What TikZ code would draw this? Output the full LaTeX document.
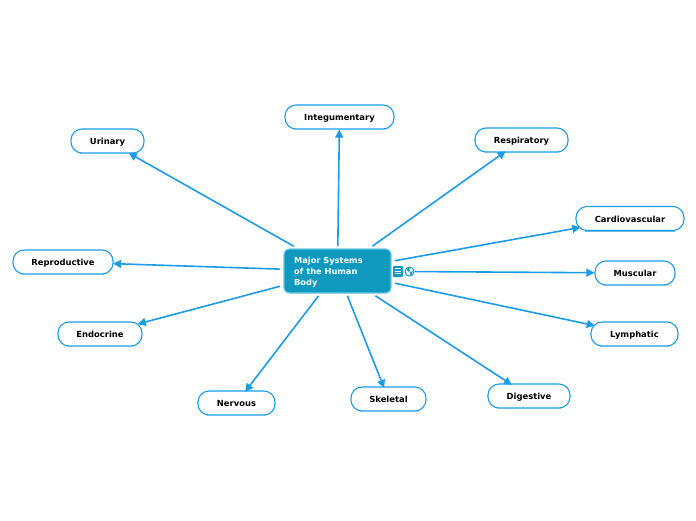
\documentclass[tikz,border=0pt]{standalone}
\usepackage{fontspec}
\setmainfont{DejaVu Sans}
\usetikzlibrary{arrows.meta}
\definecolor{linkc}{HTML}{1C9CE8}
\definecolor{lightc}{HTML}{6BBDF0}
\definecolor{mainf}{HTML}{0F99BF}
\definecolor{mainb}{HTML}{6CC4E8}
\tikzset{
  x=1pt,y=-1pt,
  topic/.style={draw=linkc,fill=white,line width=1.1pt,rounded corners=11pt,minimum height=24pt,inner sep=0pt,text height=7pt,text depth=0pt,font=\fontsize{8.4}{10}\selectfont\bfseries,text=black},
  central/.style={draw=mainb,fill=mainf,line width=1.1pt,rounded corners=5pt,minimum width=107pt,minimum height=44pt,inner sep=0pt,outer xsep=4pt,outer ysep=2.8pt,text=white},
  link/.style={draw=linkc,line width=1.6pt,-{Triangle[length=8pt,width=8pt]}},
  notebox/.style={fill=mainf,rounded corners=1pt,minimum width=10pt,minimum height=11pt,inner sep=0pt},
  globe/.style={circle,fill=white,draw=mainf,line width=1pt,minimum size=9pt,inner sep=0pt},
}
\begin{document}
\begin{tikzpicture}
\useasboundingbox (0,0) rectangle (696,520);
\node[central] (main) at (337.5,271) {};
\node[anchor=west,text=white,font=\fontsize{8.25}{10.6}\selectfont\bfseries,align=left,inner sep=0pt] (maintext) at (294,272.3) {Major Systems\\of the Human\\Body};
\node[topic,minimum width=109pt] (integ) at (339.5,117) {Integumentary};
\node[topic,minimum width=73pt] (urin) at (107.5,141) {Urinary};
\node[topic,minimum width=93pt] (resp) at (521.5,140) {Respiratory};
\node[topic,minimum width=108pt] (card) at (630,218.5) {Cardiovascular};
\node[topic,minimum width=80pt] (musc) at (635,273) {Muscular};
\node[topic,minimum width=87pt] (lymp) at (634.5,334) {Lymphatic};
\node[topic,minimum width=82pt] (dige) at (529,396) {Digestive};
\node[topic,minimum width=75pt] (skel) at (388.5,399) {Skeletal};
\node[topic,minimum width=77pt] (nerv) at (236.5,403) {Nervous};
\node[topic,minimum width=84pt] (endo) at (100,334) {Endocrine};
\node[topic,minimum width=100pt] (repr) at (63,262) {Reproductive};
\foreach \t in {integ,urin,resp,card,musc,lymp,dige,skel,nerv,endo,repr}{
  \draw[lightc,line width=1pt] ([xshift=10pt]\t.south west) -- ([xshift=-10pt]\t.south east);
}
\foreach \t/\e in {integ/0,urin/1,resp/2.2,card/5,lymp/4.5,dige/2.5,skel/1.5,nerv/1.5,endo/5,repr/.5}{
  \draw[link,shorten >=-\e pt] (main) -- (\t);
}
\node[notebox] (note) at (398,271.5) {};
\draw[white,line width=.7pt] (394.8,268.5) -- (401.2,268.5) (394.8,271) -- (401.2,271) (394.8,273.5) -- (401.2,273.5);
\node[globe] (glob) at (409.5,271.5) {};
\fill[mainf] (406.5,268.5) -- (409.5,268) -- (409.8,270.5) -- (408.2,272) -- cycle (410,272) -- (412.8,271) -- (411.5,275) -- (410.3,275) -- cycle;
\draw[link] (glob) -- (musc);
\end{tikzpicture}
\end{document}
